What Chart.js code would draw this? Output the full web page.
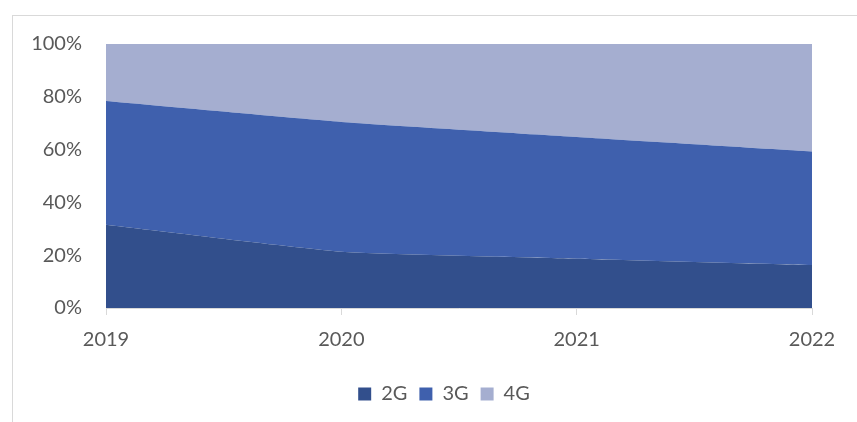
<!DOCTYPE html>
<html>
<head>
<meta charset="utf-8">
<script src="https://cdn.jsdelivr.net/npm/chart.js@4"></script>
<style>
    html, body { margin: 0; padding: 0; background: #fff; overflow: hidden; }
    #frame {
        position: absolute;
        left: 12px; top: 15px;
        width: 860px; height: 420px;
        border-left: 1px solid #d9d9d9;
        border-top: 1px solid #d9d9d9;
    }
    /* canvas runs past the right edge so the legend sits centred under the plot */
    #wrap { position: absolute; left: 13px; top: 16px; width: 906px; height: 406px; }
</style>
</head>
<body>
<div id="frame"></div>
<div id="wrap"><canvas id="share-chart"></canvas></div>
<script>
// --- Data ---
const years = ['2019', '2020', '2021', '2022'];
const share2G = [31.5, 21.3, 18.7, 16.3];
const share3G = [46.9, 49.2, 46.1, 43.0];
const share4G = [21.6, 29.5, 35.2, 40.7];

const TEXT = '#595959';
const FONT = 'Lato, "Open Sans", sans-serif';

const series = [
    { label: '2G', data: share2G, color: '#324f8c' },
    { label: '3G', data: share3G, color: '#3f60ad' },
    { label: '4G', data: share4G, color: '#a5aed0' }
];

const ctx = document.getElementById('share-chart').getContext('2d');
new Chart(ctx, {
    type: 'line',
    data: {
        labels: years,
        datasets: series.map((s, i) => ({
            label: s.label,
            data: s.data,
            backgroundColor: s.color,
            borderColor: s.color,
            borderWidth: 0,
            pointRadius: 0,
            tension: 0.15,
            fill: i === 0 ? 'origin' : '-1'
        }))
    },
    options: {
        responsive: true,
        maintainAspectRatio: false,
        animation: false,
        layout: { padding: { top: 16, right: 44, bottom: 8, left: 0 } },
        plugins: {
            tooltip: { enabled: false },
            legend: {
                position: 'bottom',
                labels: {
                    boxWidth: 13,
                    boxHeight: 13,
                    padding: 12,
                    color: TEXT,
                    font: { family: FONT, size: 20 }
                }
            }
        },
        scales: {
            x: {
                offset: false,
                grid: {
                    drawOnChartArea: false,
                    drawTicks: true,
                    tickLength: 7,
                    color: '#d9d9d9'
                },
                border: { color: '#d9d9d9', width: 1 },
                ticks: {
                    color: TEXT,
                    padding: 13,
                    maxRotation: 0,
                    font: { family: FONT, size: 20 }
                },
                afterFit: (scale) => { scale.height = 64; }
            },
            y: {
                stacked: true,
                min: 0,
                max: 100,
                grid: { display: false },
                border: { display: false },
                ticks: {
                    stepSize: 20,
                    color: TEXT,
                    padding: 16,
                    font: { family: FONT, size: 20 },
                    callback: (v) => v + '%'
                },
                afterFit: (scale) => { scale.width = 93; }
            },
            // empty spacer on the right, only reserves room
            spacer: {
                type: 'linear',
                position: 'right',
                grid: { display: false },
                border: { display: false },
                ticks: { display: false },
                afterFit: (scale) => { scale.width = 63; }
            }
        }
    }
});
</script>
</body>
</html>
